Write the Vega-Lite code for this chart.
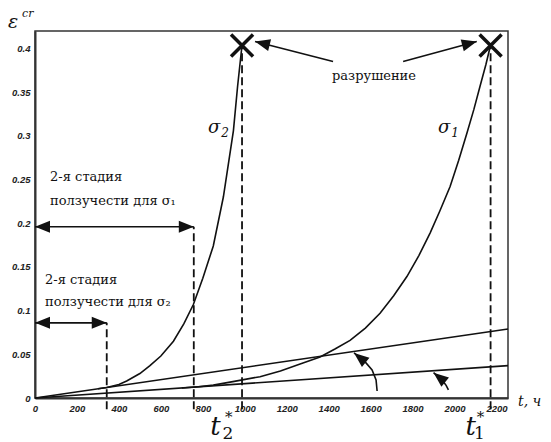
{
  "$schema": "https://vega.github.io/schema/vega-lite/v6.json",
  "width": 473,
  "height": 367,
  "autosize": "none",
  "padding": {"left": 35, "top": 31, "right": 43, "bottom": 44},
  "background": "white",
  "config": {
    "view": {"stroke": "#333", "strokeWidth": 1.5},
    "axis": {
      "ticks": false, "grid": false, "title": null,
      "labelFont": "Liberation Sans", "labelFontWeight": "bold", "labelFontStyle": "italic",
      "labelFontSize": 9.5, "labelColor": "#222", "labelPadding": 5,
      "domainColor": "#333", "domainWidth": 2, "labelOverlap": false, "labelFlush": false
    }
  },
  "encoding": {
    "x": {"field": "t", "type": "quantitative",
      "scale": {"domain": [0, 2255], "nice": false, "zero": false},
      "axis": {"values": [0,200,400,600,800,1000,1200,1400,1600,1800,2000,2200], "format": "d"}},
    "y": {"field": "e", "type": "quantitative",
      "scale": {"domain": [0, 0.42], "nice": false, "zero": false},
      "axis": {"values": [0,0.05,0.1,0.15,0.2,0.25,0.3,0.35,0.4], "format": "~g"}}
  },
  "layer": [
    {
      "data": {"values": [
        {"g":"upper","i":0,"t":0,"e":0},{"g":"upper","i":1,"t":2255,"e":0.079},
        {"g":"lower","i":0,"t":0,"e":0},{"g":"lower","i":1,"t":2255,"e":0.037},
        {"g":"s2","i":0,"t":300,"e":0.0105},{"g":"s2","i":1,"t":342,"e":0.012},{"g":"s2","i":2,"t":400,"e":0.0155},{"g":"s2","i":3,"t":437,"e":0.0195},{"g":"s2","i":4,"t":500,"e":0.028},{"g":"s2","i":5,"t":548,"e":0.037},{"g":"s2","i":6,"t":600,"e":0.048},{"g":"s2","i":7,"t":660,"e":0.065},{"g":"s2","i":8,"t":710,"e":0.085},{"g":"s2","i":9,"t":755,"e":0.107},{"g":"s2","i":10,"t":800,"e":0.137},{"g":"s2","i":11,"t":850,"e":0.174},{"g":"s2","i":12,"t":898,"e":0.23},{"g":"s2","i":13,"t":946,"e":0.306},{"g":"s2","i":14,"t":966,"e":0.357},{"g":"s2","i":15,"t":987,"e":0.404},
        {"g":"s1","i":0,"t":700,"e":0.0115},{"g":"s1","i":1,"t":780,"e":0.0128},{"g":"s1","i":2,"t":850,"e":0.0147},{"g":"s1","i":3,"t":950,"e":0.019},{"g":"s1","i":4,"t":1073,"e":0.0244},{"g":"s1","i":5,"t":1170,"e":0.031},{"g":"s1","i":6,"t":1264,"e":0.039},{"g":"s1","i":7,"t":1359,"e":0.047},{"g":"s1","i":8,"t":1430,"e":0.056},{"g":"s1","i":9,"t":1502,"e":0.066},{"g":"s1","i":10,"t":1575,"e":0.08},{"g":"s1","i":11,"t":1645,"e":0.097},{"g":"s1","i":12,"t":1710,"e":0.117},{"g":"s1","i":13,"t":1773,"e":0.139},{"g":"s1","i":14,"t":1830,"e":0.163},{"g":"s1","i":15,"t":1884,"e":0.189},{"g":"s1","i":16,"t":1930,"e":0.214},{"g":"s1","i":17,"t":1979,"e":0.242},{"g":"s1","i":18,"t":2020,"e":0.272},{"g":"s1","i":19,"t":2059,"e":0.303},{"g":"s1","i":20,"t":2092,"e":0.33},{"g":"s1","i":21,"t":2122,"e":0.357},{"g":"s1","i":22,"t":2150,"e":0.382},{"g":"s1","i":23,"t":2172,"e":0.404},
        {"g":"h1","i":0,"t":0,"e":0.196},{"g":"h1","i":1,"t":757,"e":0.196},
        {"g":"h2","i":0,"t":0,"e":0.086},{"g":"h2","i":1,"t":342,"e":0.086},
        {"g":"r1","i":0,"t":1421,"e":0.385},{"g":"r1","i":1,"t":1049,"e":0.408},
        {"g":"r2","i":0,"t":1755,"e":0.385},{"g":"r2","i":1,"t":2106,"e":0.408},
        {"g":"c1","i":0,"t":1631,"e":0.008},{"g":"c1","i":1,"t":1626,"e":0.0206},{"g":"c1","i":2,"t":1607,"e":0.0321},{"g":"c1","i":3,"t":1574,"e":0.0413},{"g":"c1","i":4,"t":1521,"e":0.0516},
        {"g":"c2","i":0,"t":1971,"e":0.0092},{"g":"c2","i":1,"t":1960,"e":0.0145},{"g":"c2","i":2,"t":1947,"e":0.0187},{"g":"c2","i":3,"t":1925,"e":0.024},{"g":"c2","i":4,"t":1900,"e":0.029}
      ]},
      "mark": {"type": "line", "color": "#111", "strokeWidth": 1.6},
      "encoding": {"detail": {"field": "g"}, "order": {"field": "i", "type": "quantitative"}}
    },
    {
      "data": {"values": [
        {"g":"d1","i":0,"t":342,"e":-0.013},{"g":"d1","i":1,"t":342,"e":0.086},
        {"g":"d2","i":0,"t":757,"e":-0.013},{"g":"d2","i":1,"t":757,"e":0.196},
        {"g":"d3","i":0,"t":987,"e":-0.013},{"g":"d3","i":1,"t":987,"e":0.404},
        {"g":"d4","i":0,"t":2172,"e":-0.013},{"g":"d4","i":1,"t":2172,"e":0.404}
      ]},
      "mark": {"type": "line", "color": "#111", "strokeWidth": 1.8, "strokeDash": [8, 4]},
      "encoding": {"detail": {"field": "g"}, "order": {"field": "i", "type": "quantitative"}}
    },
    {
      "data": {"values": [
        {"t":0,"e":0.196,"a":180},{"t":757,"e":0.196,"a":0},
        {"t":0,"e":0.086,"a":180},{"t":342,"e":0.086,"a":0},
        {"t":1049,"e":0.408,"a":194},{"t":2106,"e":0.408,"a":345},
        {"t":1521,"e":0.0516,"a":219},{"t":1900,"e":0.029,"a":219}
      ]},
      "mark": {"type": "point", "shape": "M0,0L-2,-0.8L-2,0.8Z", "filled": true, "size": 225, "color": "#111", "opacity": 1, "strokeWidth": 0},
      "encoding": {"angle": {"field": "a", "type": "quantitative", "scale": null}}
    },
    {
      "data": {"values": [{"t":987,"e":0.4035},{"t":2172,"e":0.4035}]},
      "mark": {"type": "point", "shape": "M-1,-1L1,1M1,-1L-1,1", "filled": false, "size": 484, "color": "#111", "opacity": 1, "strokeWidth": 3.5}
    },
    {
      "data": {"values": [
        {"txt":"2-я стадия","t":72,"e":0.2485,"s":13},
        {"txt":"ползучести для σ₁","t":72,"e":0.221,"s":13},
        {"txt":"2-я стадия","t":48,"e":0.1305,"s":13},
        {"txt":"ползучести для σ₂","t":48,"e":0.1053,"s":13},
        {"txt":"разрушение","t":1416,"e":0.364,"s":13},
        {"txt":"2","t":894,"e":-0.0465,"s":17},
        {"txt":"*","t":906,"e":-0.028,"s":15},
        {"txt":"1","t":2093,"e":-0.0465,"s":17},
        {"txt":"*","t":2106,"e":-0.028,"s":15}
      ]},
      "mark": {"type": "text", "font": "DejaVu Serif", "align": "left", "baseline": "alphabetic", "color": "#111"},
      "encoding": {"text": {"field": "txt"}, "size": {"field": "s", "type": "quantitative", "scale": null}}
    },
    {
      "data": {"values": [
        {"txt":"σ","t":825,"e":0.3035,"s":18},
        {"txt":"2","t":888,"e":0.299,"s":12},
        {"txt":"σ","t":1921,"e":0.3035,"s":18},
        {"txt":"1","t":1984,"e":0.299,"s":12},
        {"txt":"t","t":836,"e":-0.042,"s":26},
        {"txt":"t","t":2052,"e":-0.042,"s":26},
        {"txt":"t,  ч","t":2303,"e":-0.009,"s":14},
        {"txt":"ε","t":-129,"e":0.4235,"s":19},
        {"txt":"cr","t":-62,"e":0.4365,"s":11}
      ]},
      "mark": {"type": "text", "font": "DejaVu Serif", "fontStyle": "italic", "align": "left", "baseline": "alphabetic", "color": "#111"},
      "encoding": {"text": {"field": "txt"}, "size": {"field": "s", "type": "quantitative", "scale": null}}
    }
  ]
}
